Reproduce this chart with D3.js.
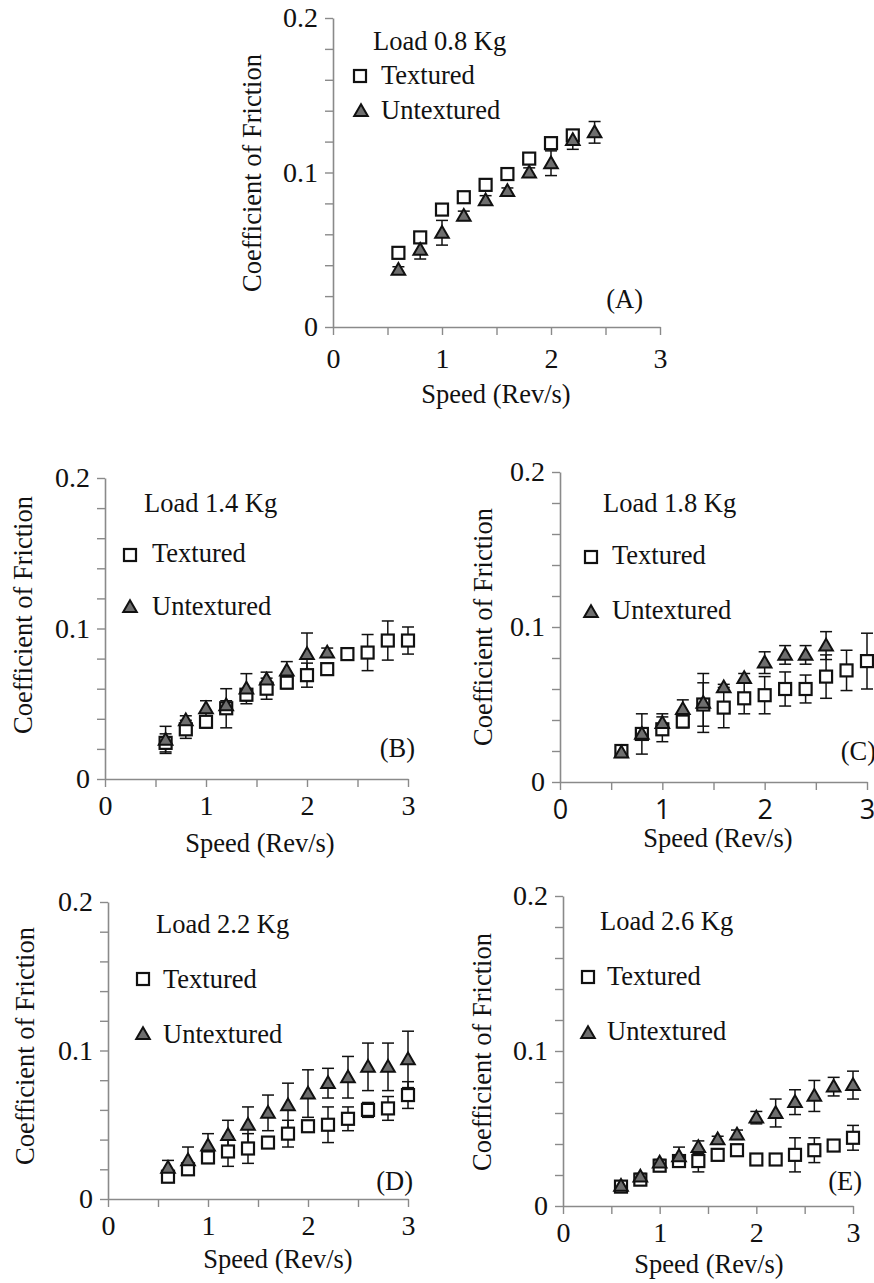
<!DOCTYPE html>
<html>
<head>
<meta charset="utf-8">
<script src="https://cdn.jsdelivr.net/npm/d3@7"></script>
<style>
  body { margin: 0; background: #fff; }
  svg { display: block; font-family: "Liberation Serif", "Times New Roman", serif; }
</style>
</head>
<body>
<svg id="chart"></svg>
<script>
// speeds (Rev/s)
let speedsFull = [0.6, 0.8, 1.0, 1.2, 1.4, 1.6, 1.8, 2.0, 2.2, 2.4, 2.6, 2.8, 3.0];
let speedsA_tex = [0.6, 0.8, 1.0, 1.2, 1.4, 1.6, 1.8, 2.0, 2.2];
let speedsA_untex = [0.6, 0.8, 1.0, 1.2, 1.4, 1.6, 1.8, 2.0, 2.2, 2.4];
let speedsB_untex = [0.6, 0.8, 1.0, 1.2, 1.4, 1.6, 1.8, 2.0, 2.2];
let speedsC_untex = [0.6, 0.8, 1.0, 1.2, 1.4, 1.6, 1.8, 2.0, 2.2, 2.4, 2.6];

// (A) load 0.8 Kg
let texA = [0.048, 0.058, 0.076, 0.084, 0.092, 0.099, 0.109, 0.119, 0.124];
let texErrA = [0.002, 0.003, 0.003, 0.002, 0.002, 0.002, 0.002, 0.002, 0.003];
let untexA = [0.037, 0.050, 0.061, 0.072, 0.082, 0.088, 0.100, 0.106, 0.121, 0.126];
let untexErrA = [0.002, 0.006, 0.008, 0.003, 0.003, 0.002, 0.003, 0.008, 0.006, 0.007];

// (B) load 1.4 Kg
let texB = [0.024, 0.033, 0.038, 0.047, 0.056, 0.060, 0.064, 0.069, 0.073, 0.083, 0.084, 0.092, 0.092];
let texErrB = [0.006, 0.006, 0.004, 0.013, 0.004, 0.007, 0.004, 0.008, 0.003, 0.002, 0.012, 0.013, 0.009];
let untexB = [0.026, 0.039, 0.047, 0.049, 0.060, 0.066, 0.072, 0.083, 0.084];
let untexErrB = [0.009, 0.003, 0.005, 0.003, 0.010, 0.005, 0.006, 0.014, 0.003];

// (C) load 1.8 Kg
let texC = [0.020, 0.031, 0.034, 0.039, 0.050, 0.048, 0.054, 0.056, 0.060, 0.060, 0.068, 0.072, 0.078];
let texErrC = [0.003, 0.013, 0.008, 0.004, 0.014, 0.013, 0.010, 0.012, 0.011, 0.009, 0.014, 0.013, 0.018];
let untexC = [0.019, 0.031, 0.038, 0.047, 0.051, 0.061, 0.067, 0.077, 0.082, 0.082, 0.088];
let untexErrC = [0.003, 0.003, 0.006, 0.006, 0.019, 0.002, 0.003, 0.007, 0.006, 0.006, 0.009];

// (D) load 2.2 Kg
let texD = [0.015, 0.020, 0.028, 0.032, 0.034, 0.038, 0.044, 0.049, 0.050, 0.054, 0.060, 0.061, 0.070];
let texErrD = [0.002, 0.002, 0.004, 0.010, 0.010, 0.002, 0.009, 0.002, 0.012, 0.008, 0.005, 0.008, 0.009];
let untexD = [0.021, 0.026, 0.036, 0.043, 0.050, 0.058, 0.063, 0.071, 0.078, 0.082, 0.089, 0.089, 0.094];
let untexErrD = [0.005, 0.009, 0.008, 0.010, 0.012, 0.012, 0.015, 0.016, 0.010, 0.014, 0.016, 0.016, 0.019];

// (E) load 2.6 Kg
let texE = [0.0125, 0.017, 0.026, 0.029, 0.029, 0.033, 0.036, 0.030, 0.030, 0.033, 0.036, 0.039, 0.044];
let texErrE = [0.002, 0.002, 0.002, 0.003, 0.007, 0.003, 0.003, 0.002, 0.002, 0.011, 0.008, 0.002, 0.008];
let untexE = [0.013, 0.019, 0.028, 0.032, 0.038, 0.043, 0.046, 0.057, 0.060, 0.067, 0.071, 0.077, 0.078];
let untexErrE = [0.002, 0.002, 0.002, 0.006, 0.004, 0.002, 0.003, 0.004, 0.009, 0.008, 0.010, 0.006, 0.009];

let loads = ["Load 0.8 Kg", "Load 1.4 Kg", "Load 1.8 Kg", "Load 2.2 Kg", "Load 2.6 Kg"];
let tags = ["(A)", "(B)", "(C)", "(D)", "(E)"];
let seriesNames = ["Textured", "Untextured"];
let xTickValues = [0, 1, 2, 3];
let xMinorTicks = [0, 0.5, 1, 1.5, 2, 2.5, 3];
let yTickValues = [0, 0.1, 0.2];
let yTickLabels = ["0", "0.1", "0.2"];
let yMinorTicks = [0, 0.02, 0.04, 0.06, 0.08, 0.1, 0.12, 0.14, 0.16, 0.18, 0.2];

let width = 874;
let height = 1283;

let axisColor = "#8a8a8a";
let triFill = "#6e6e6e";

// layout of each panel in pixels
let layout = [
    { x0: 333, x1: 660, yTop: 18, yBot: 327, title: [373, 50], sq: [360, 76], tex: [381, 84], tri: [361, 111], untex: [381, 119],
      tag: [643, 308], xPad: 13, xTitle: [496, 403], yTitle: [252, 173], tickFont: "serif" },
    { x0: 105, x1: 408, yTop: 478, yBot: 779, title: [144, 512], sq: [130, 555], tex: [152, 562], tri: [130, 607], untex: [152, 615],
      tag: [415, 757], xPad: 8, xTitle: [260, 852], yTitle: [23, 615], tickFont: "serif" },
    { x0: 560, x1: 867, yTop: 472, yBot: 782, title: [603, 512], sq: [591, 557], tex: [612, 564], tri: [591, 612], untex: [612, 619],
      tag: [876, 760], xPad: 10, xTitle: [718, 847], yTitle: [483, 627], tickFont: "sans" },
    { x0: 108, x1: 408, yTop: 902, yBot: 1199, title: [156, 933], sq: [143, 979], tex: [163, 988], tri: [143, 1034], untex: [163, 1043],
      tag: [413, 1190], xPad: 8, xTitle: [278, 1268], yTitle: [25, 1046], tickFont: "serif" },
    { x0: 563, x1: 853, yTop: 896, yBot: 1206, title: [600, 930], sq: [588, 977], tex: [607, 985], tri: [588, 1033], untex: [607, 1040],
      tag: [862, 1190], xPad: 8, xTitle: [709, 1273], yTitle: [482, 1052], tickFont: "serif" }
];

let panelData = [
    { texX: speedsA_tex, tex: texA, texErr: texErrA, untexX: speedsA_untex, untex: untexA, untexErr: untexErrA },
    { texX: speedsFull, tex: texB, texErr: texErrB, untexX: speedsB_untex, untex: untexB, untexErr: untexErrB },
    { texX: speedsFull, tex: texC, texErr: texErrC, untexX: speedsC_untex, untex: untexC, untexErr: untexErrC },
    { texX: speedsFull, tex: texD, texErr: texErrD, untexX: speedsFull, untex: untexD, untexErr: untexErrD },
    { texX: speedsFull, tex: texE, texErr: texErrE, untexX: speedsFull, untex: untexE, untexErr: untexErrE }
];

let svg = d3.select("#chart")
    .attr("width", width)
    .attr("height", height);

let triPath = d3.symbol(d3.symbolTriangle, 80)();
let sqSize = 12;

let drawSquare = (g, x, y) => {
    g.append("rect")
        .attr("x", x - sqSize / 2)
        .attr("y", y - sqSize / 2)
        .attr("width", sqSize)
        .attr("height", sqSize)
        .attr("fill", "white")
        .attr("stroke", "#111")
        .attr("stroke-width", 2.2);
};

let drawTriangle = (g, x, y) => {
    g.append("path")
        .attr("d", triPath)
        .attr("transform", "translate(" + x + "," + (y + 1) + ")")
        .attr("fill", triFill)
        .attr("stroke", "#111")
        .attr("stroke-width", 2);
};

let drawPanel = (i) => {
    let L = layout[i];
    let D = panelData[i];
    let g = svg.append("g");

    let xScale = d3.scaleLinear().domain([0, 3]).range([L.x0, L.x1]);
    let yScale = d3.scaleLinear().domain([0, 0.2]).range([L.yBot, L.yTop]);

    // axes
    let xAxis = d3.axisBottom(xScale)
        .tickValues(xMinorTicks)
        .tickSize(8)
        .tickSizeOuter(0)
        .tickPadding(L.xPad)
        .tickFormat((d) => xTickValues.includes(d) ? String(d) : "");
    let xg = g.append("g")
        .attr("transform", "translate(0," + L.yBot + ")")
        .call(xAxis);

    let yAxis = d3.axisLeft(yScale)
        .tickValues(yMinorTicks)
        .tickSize(8)
        .tickSizeOuter(0)
        .tickPadding(7)
        .tickFormat((d) => {
            let k = yTickValues.findIndex((v) => Math.abs(v - d) < 1e-9);
            return k >= 0 ? yTickLabels[k] : "";
        });
    let yg = g.append("g")
        .attr("transform", "translate(" + L.x0 + ",0)")
        .call(yAxis);

    [xg, yg].forEach((a) => {
        a.select(".domain").attr("stroke", axisColor).attr("stroke-width", 1.6);
        a.selectAll(".tick line").attr("stroke", axisColor).attr("stroke-width", 1.4);
        a.selectAll("text")
            .attr("fill", "#111")
            .style("font-size", "28px")
            .style("font-family", "\"Liberation Serif\", serif");
    });
    if (L.tickFont == "sans") {
        xg.selectAll("text").style("font-family", "\"Open Sans\", \"Liberation Sans\", sans-serif").style("font-size", "27px");
    }

    // error bars
    let drawErr = (xs, ys, es) => {
        xs.forEach((x, k) => {
            let px = xScale(x);
            let lo = yScale(ys[k] - es[k]);
            let hi = yScale(ys[k] + es[k]);
            g.append("line").attr("x1", px).attr("x2", px).attr("y1", lo).attr("y2", hi)
                .attr("stroke", "#111").attr("stroke-width", 1.5);
            [lo, hi].forEach((py) => {
                g.append("line").attr("x1", px - 6).attr("x2", px + 6).attr("y1", py).attr("y2", py)
                    .attr("stroke", "#111").attr("stroke-width", 1.5);
            });
        });
    };
    drawErr(D.texX, D.tex, D.texErr);
    drawErr(D.untexX, D.untex, D.untexErr);

    // markers
    D.texX.forEach((x, k) => drawSquare(g, xScale(x), yScale(D.tex[k])));
    D.untexX.forEach((x, k) => drawTriangle(g, xScale(x), yScale(D.untex[k])));

    // legend
    let txt = (x, y, s, anchor) => g.append("text")
        .attr("x", x).attr("y", y)
        .attr("text-anchor", anchor || "start")
        .attr("fill", "#111")
        .style("font-size", "26.5px")
        .text(s);

    txt(L.title[0], L.title[1], loads[i]);
    drawSquare(g, L.sq[0], L.sq[1]);
    txt(L.tex[0], L.tex[1], seriesNames[0]);
    drawTriangle(g, L.tri[0], L.tri[1]);
    txt(L.untex[0], L.untex[1], seriesNames[1]);
    txt(L.tag[0], L.tag[1], tags[i], "end");

    // axis titles
    txt(L.xTitle[0], L.xTitle[1], "Speed (Rev/s)", "middle");
    g.append("text")
        .attr("transform", "translate(" + L.yTitle[0] + "," + L.yTitle[1] + ") rotate(-90)")
        .attr("text-anchor", "middle")
        .attr("dominant-baseline", "central")
        .attr("fill", "#111")
        .style("font-size", "26.5px")
        .text("Coefficient of Friction");
};

layout.forEach((l, i) => drawPanel(i));
</script>
</body>
</html>
